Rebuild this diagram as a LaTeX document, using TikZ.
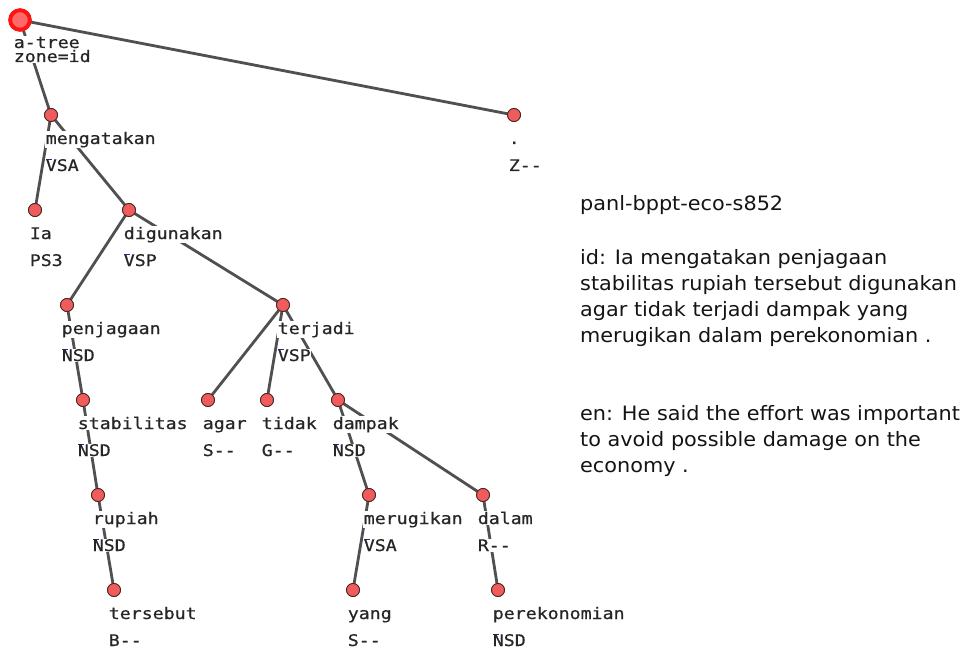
\documentclass[tikz,border=0pt]{standalone}
\usepackage{fontspec}
\setmainfont[FakeStretch=1.05]{DejaVu Sans}
\newfontfamily\treefont[FakeStretch=1.14,FakeBold=0.6]{DejaVu Sans Mono}
\definecolor{edgegray}{RGB}{80,80,80}
\definecolor{dotred}{RGB}{240,92,92}
\definecolor{dotline}{RGB}{70,35,35}
\definecolor{rootred}{RGB}{255,20,20}
\definecolor{rootfill}{RGB}{255,105,105}
\definecolor{tagblue}{RGB}{40,40,150}
\newcommand\tagmark[1]{\leavevmode\rlap{\color{tagblue}\rule[10.6pt]{6pt}{1.3pt}}#1}
\tikzset{
  edge/.style={draw=edgegray, line width=2.8pt},
  dot/.style={circle, fill=dotred, draw=dotline, line width=0.8pt, minimum size=13pt, inner sep=0pt},
  rootdot/.style={circle, fill=rootfill, draw=rootred, line width=3.8pt, minimum size=19.5pt, inner sep=0pt},
  word/.style={anchor=base west, fill=white, inner sep=0.6pt, font=\treefont\fontsize{16}{18}\selectfont, text=black!85},
  side/.style={anchor=base west, inner sep=0pt, font=\fontsize{19.8}{26}\selectfont, text=black!92, align=left}
}
\begin{document}
\begin{tikzpicture}[x=1pt, y=-1pt]
\useasboundingbox[fill=white] (0,0) rectangle (964,650);
% dots (coordinates)
\node[rootdot] (root) at (20,20) {};
\node[dot] (meng) at (51,115) {};
\node[dot] (per) at (514,115) {};
\node[dot] (ia) at (35,210) {};
\node[dot] (digu) at (129,210) {};
\node[dot] (penj) at (67,305) {};
\node[dot] (terj) at (283,305) {};
\node[dot] (stab) at (83,400) {};
\node[dot] (agar) at (208,400) {};
\node[dot] (tidak) at (267,400) {};
\node[dot] (damp) at (338,400) {};
\node[dot] (rup) at (98,495) {};
\node[dot] (meru) at (369,495) {};
\node[dot] (dalam) at (483,495) {};
\node[dot] (ters) at (114,590) {};
\node[dot] (yang) at (353,590) {};
\node[dot] (pere) at (498,590) {};
% edges
\foreach \a/\b in {root/meng, root/per, meng/ia, meng/digu, digu/penj, digu/terj,
  penj/stab, stab/rup, rup/ters, terj/agar, terj/tidak, terj/damp, damp/meru, damp/dalam,
  meru/yang, dalam/pere}
  \draw[edge] (\a.center) -- (\b.center);
% labels
\node[word] (l-root1) at (13,48) {a-tree};
\node[word] (l-root2) at (13,62) {zone=id};
\node[word] (w-meng) at (45,144) {mengatakan};
\node[word] (t-meng) at (45,171) {\tagmark{V}SA};
\node[word] (w-per) at (508,144) {.};
\node[word] (t-per) at (508,171) {Z--};
\node[word] (w-ia) at (29,239) {Ia};
\node[word] (t-ia) at (29,266) {PS3};
\node[word] (w-digu) at (123,239) {digunakan};
\node[word] (t-digu) at (123,266) {\tagmark{V}SP};
\node[word] (w-penj) at (61,334) {penjagaan};
\node[word] (t-penj) at (61,361) {\tagmark{N}SD};
\node[word] (w-terj) at (277,334) {terjadi};
\node[word] (t-terj) at (277,361) {\tagmark{V}SP};
\node[word] (w-stab) at (77,429) {stabilitas};
\node[word] (t-stab) at (77,456) {\tagmark{N}SD};
\node[word] (w-agar) at (202,429) {agar};
\node[word] (t-agar) at (202,456) {S--};
\node[word] (w-tidak) at (261,429) {tidak};
\node[word] (t-tidak) at (261,456) {G--};
\node[word] (w-damp) at (332,429) {dampak};
\node[word] (t-damp) at (332,456) {\tagmark{N}SD};
\node[word] (w-rup) at (92,524) {rupiah};
\node[word] (t-rup) at (92,551) {\tagmark{N}SD};
\node[word] (w-meru) at (363,524) {merugikan};
\node[word] (t-meru) at (363,551) {\tagmark{V}SA};
\node[word] (w-dalam) at (477,524) {dalam};
\node[word] (t-dalam) at (477,551) {R--};
\node[word] (w-ters) at (108,619) {tersebut};
\node[word] (t-ters) at (108,646) {B--};
\node[word] (w-yang) at (347,619) {yang};
\node[word] (t-yang) at (347,646) {S--};
\node[word] (w-pere) at (492,619) {perekonomian};
\node[word] (t-pere) at (492,646) {\tagmark{N}SD};
% redraw dots on top
\foreach \n in {meng, per, ia, digu, penj, terj, stab, agar, tidak, damp, rup, meru, dalam, ters, yang, pere}
  \node[dot] at (\n) {};
\node[rootdot] at (root) {};
% side text (base anchor = baseline of last line)
\node[side] (title) at (580,211) {panl-bppt-eco-s852};
\node[side] (idtext) at (580,342) {id: Ia mengatakan penjagaan\\stabilitas rupiah tersebut digunakan\\agar tidak terjadi dampak yang\\merugikan dalam perekonomian .};
\node[side] (entext) at (580,472) {en: He said the effort was important\\to avoid possible damage on the\\economy .};
\end{tikzpicture}
\end{document}
